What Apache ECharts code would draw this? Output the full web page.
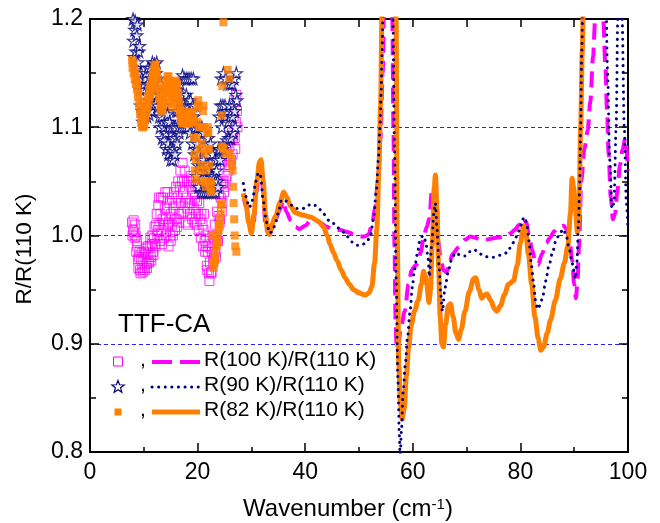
<!DOCTYPE html>
<html>
<head>
<meta charset="utf-8">
<script src="https://cdn.jsdelivr.net/npm/echarts@6/dist/echarts.min.js"></script>
<style>
  html, body { margin: 0; padding: 0; background: #fff; }
  #chart { width: 660px; height: 523px; }
</style>
</head>
<body>
<div id="chart"></div>
<script>
// Axis tick labels
const yTicks = ['0.8', '0.9', '1.0', '1.1', '1.2'];

// Raw far-infrared ratio points below 28 cm-1, [wavenumber (cm-1), R/R(110 K)]
const r100Points = [
  [7.8,1.012],[7.9,1.0],[8.0,1.005],[8.1,1.014],[8.2,1.003],[8.3,0.998],[8.4,1.01],[8.5,1.0],[8.6,0.985],[8.7,0.995],[8.8,0.99],[8.9,0.978],
  [9.0,0.97],[9.1,0.98],[9.2,0.985],[9.3,0.968],[9.4,0.965],[9.5,0.978],[9.6,0.984],[9.7,0.97],[9.8,0.966],[9.9,0.978],
  [10.0,0.985],[10.1,0.97],[10.2,0.968],[10.3,0.98],[10.4,0.988],[10.5,0.974],[10.6,0.97],[10.7,0.983],[10.8,0.99],[10.9,0.976],
  [11.0,0.975],[11.1,0.99],[11.2,0.998],[11.3,0.98],[11.4,0.977],[11.5,0.992],[11.6,1.0],[11.7,0.985],[11.8,0.982],[11.9,0.997],
  [12.0,1.008],[12.1,0.992],[12.2,0.99],[12.3,1.01],[12.4,1.02],[12.5,1.0],[12.6,1.005],[12.7,1.028],[12.8,1.035],[12.9,1.01],
  [13.0,0.995],[13.1,1.02],[13.2,1.035],[13.3,1.005],[13.4,0.992],[13.5,1.015],[13.6,1.035],[13.7,1.01],[13.8,0.998],[13.9,1.025],
  [14.0,1.04],[14.1,1.015],[14.2,1.0],[14.3,1.025],[14.4,1.04],[14.5,1.01],[14.6,0.99],[14.7,1.012],[14.8,1.03],[14.9,1.0],
  [15.0,0.995],[15.1,1.02],[15.2,1.035],[15.3,1.01],[15.4,1.0],[15.5,1.025],[15.6,1.04],[15.7,1.015],[15.8,1.005],[15.9,1.03],
  [16.0,1.045],[16.1,1.015],[16.2,1.008],[16.3,1.035],[16.4,1.05],[16.5,1.02],[16.6,1.012],[16.7,1.045],[16.8,1.06],[16.9,1.03],
  [17.0,1.02],[17.1,1.05],[17.2,1.067],[17.3,1.04],[17.4,1.022],[17.5,1.05],[17.6,1.06],[17.7,1.03],[17.8,1.012],[17.9,1.035],
  [18.0,1.05],[18.1,1.025],[18.2,1.01],[18.3,1.03],[18.4,1.05],[18.5,1.03],[18.6,1.02],[18.7,1.045],[18.8,1.055],[18.9,1.03],
  [19.0,1.015],[19.1,1.04],[19.2,1.05],[19.3,1.025],[19.4,1.012],[19.5,1.035],[19.6,1.045],[19.7,1.02],[19.8,1.01],[19.9,1.032],
  [20.0,1.045],[20.1,1.02],[20.2,1.005],[20.3,1.03],[20.4,1.045],[20.5,1.015],[20.6,0.998],[20.7,1.02],[20.8,1.04],[20.9,1.01],
  [21.0,0.99],[21.1,1.005],[21.2,1.02],[21.3,0.995],[21.4,0.985],[21.5,1.0],[21.6,0.99],[21.7,0.972],[21.8,0.968],[21.9,0.985],
  [22.0,0.99],[22.1,0.965],[22.2,0.958],[22.3,0.975],[22.4,0.988],[22.5,0.966],[22.6,0.965],[22.7,0.985],[22.8,1.0],[22.9,0.975],
  [23.0,0.978],[23.1,0.998],[23.2,1.01],[23.3,0.985],[23.4,0.98],[23.5,1.0],[23.6,1.022],[23.7,0.995],[23.8,0.995],[23.9,1.018],
  [24.0,1.038],[24.1,1.012],[24.2,1.015],[24.3,1.035],[24.4,1.048],[24.5,1.022],[24.6,1.03],[24.7,1.048],[24.8,1.05],[24.9,1.04],
  [25.0,1.045],[25.1,1.065],[25.2,1.07],[25.3,1.05],[25.4,1.055],[25.5,1.075],[25.6,1.085],[25.7,1.06],[25.8,1.065],[25.9,1.082],
  [26.0,1.09],[26.1,1.065],[26.2,1.07],[26.3,1.088],[26.4,1.095],[26.5,1.075],[26.6,1.09],[26.7,1.11],[26.8,1.125],[26.9,1.09],
  [27.0,1.08],[27.1,1.105],[27.2,1.13],[27.3,1.115],[27.4,1.1]
];
const r90Points = [
  [8.0,1.2],[8.1,1.18],[8.2,1.165],[8.3,1.19],[8.4,1.198],[8.5,1.17],[8.6,1.155],[8.7,1.185],[8.8,1.195],[8.9,1.16],
  [9.0,1.14],[9.1,1.17],[9.2,1.175],[9.3,1.135],[9.4,1.12],[9.5,1.15],[9.6,1.145],[9.7,1.115],[9.8,1.105],[9.9,1.135],
  [10.0,1.14],[10.1,1.11],[10.2,1.115],[10.3,1.145],[10.4,1.15],[10.5,1.12],[10.6,1.11],[10.7,1.14],[10.8,1.155],[10.9,1.125],
  [11.0,1.112],[11.1,1.14],[11.2,1.155],[11.3,1.13],[11.4,1.115],[11.5,1.145],[11.6,1.16],[11.7,1.135],[11.8,1.12],[11.9,1.15],
  [12.0,1.158],[12.1,1.13],[12.2,1.122],[12.3,1.15],[12.4,1.16],[12.5,1.14],[12.6,1.12],[12.7,1.145],[12.8,1.14],[12.9,1.11],
  [13.0,1.1],[13.1,1.13],[13.2,1.14],[13.3,1.11],[13.4,1.09],[13.5,1.12],[13.6,1.13],[13.7,1.1],[13.8,1.088],[13.9,1.115],
  [14.0,1.12],[14.1,1.095],[14.2,1.08],[14.3,1.105],[14.4,1.112],[14.5,1.085],[14.6,1.075],[14.7,1.1],[14.8,1.105],[14.9,1.08],
  [15.0,1.07],[15.1,1.095],[15.2,1.1],[15.3,1.078],[15.4,1.07],[15.5,1.09],[15.6,1.1],[15.7,1.08],[15.8,1.075],[15.9,1.1],
  [16.0,1.115],[16.1,1.09],[16.2,1.085],[16.3,1.115],[16.4,1.13],[16.5,1.1],[16.6,1.095],[16.7,1.125],[16.8,1.14],[16.9,1.11],
  [17.0,1.1],[17.1,1.13],[17.2,1.148],[17.3,1.12],[17.4,1.1],[17.5,1.125],[17.6,1.145],[17.7,1.12],[17.8,1.1],[17.9,1.13],
  [18.0,1.145],[18.1,1.12],[18.2,1.1],[18.3,1.125],[18.4,1.145],[18.5,1.115],[18.6,1.095],[18.7,1.125],[18.8,1.145],[18.9,1.11],
  [19.0,1.085],[19.1,1.12],[19.2,1.145],[19.3,1.11],[19.4,1.075],[19.5,1.1],[19.6,1.12],[19.7,1.08],[19.8,1.055],[19.9,1.085],
  [20.0,1.1],[20.1,1.065],[20.2,1.045],[20.3,1.075],[20.4,1.1],[20.5,1.07],[20.6,1.04],[20.7,1.07],[20.8,1.1],[20.9,1.065],
  [21.0,1.04],[21.1,1.07],[21.2,1.095],[21.3,1.06],[21.4,1.04],[21.5,1.065],[21.6,1.09],[21.7,1.06],[21.8,1.04],[21.9,1.065],
  [22.0,1.09],[22.1,1.06],[22.2,1.04],[22.3,1.06],[22.4,1.085],[22.5,1.055],[22.6,1.04],[22.7,1.055],[22.8,1.075],[22.9,1.05],
  [23.0,1.04],[23.1,1.055],[23.2,1.07],[23.3,1.05],[23.4,1.04],[23.5,1.06],[23.6,1.07],[23.7,1.05],[23.8,1.045],[23.9,1.08],
  [24.0,1.11],[24.1,1.08],[24.2,1.07],[24.3,1.12],[24.4,1.145],[24.5,1.1],[24.6,1.08],[24.7,1.12],[24.8,1.15],[24.9,1.11],
  [25.0,1.085],[25.1,1.12],[25.2,1.145],[25.3,1.11],[25.4,1.088],[25.5,1.115],[25.6,1.14],[25.7,1.105],[25.8,1.09],[25.9,1.12],
  [26.0,1.14],[26.1,1.11],[26.2,1.09],[26.3,1.115],[26.4,1.14],[26.5,1.11],[26.6,1.095],[26.7,1.12],[26.8,1.145],[26.9,1.115],
  [27.0,1.1],[27.1,1.13],[27.2,1.15],[27.3,1.125]
];
const r82Points = [
  [7.8,1.162],[7.9,1.155],[8.0,1.16],[8.1,1.15],[8.2,1.155],[8.3,1.145],[8.4,1.15],[8.5,1.14],[8.6,1.145],[8.7,1.135],[8.8,1.14],[8.9,1.128],
  [9.0,1.132],[9.1,1.12],[9.2,1.124],[9.3,1.112],[9.4,1.116],[9.5,1.104],[9.6,1.108],[9.7,1.1],[9.8,1.106],[9.9,1.1],
  [10.0,1.106],[10.1,1.102],[10.2,1.11],[10.3,1.108],[10.4,1.118],[10.5,1.114],[10.6,1.124],[10.7,1.118],[10.8,1.128],[10.9,1.124],
  [11.0,1.134],[11.1,1.128],[11.2,1.138],[11.3,1.132],[11.4,1.143],[11.5,1.137],[11.6,1.148],[11.7,1.142],[11.8,1.153],[11.9,1.148],
  [12.0,1.157],[12.1,1.152],[12.2,1.158],[12.3,1.15],[12.4,1.152],[12.5,1.142],[12.6,1.145],[12.7,1.134],[12.8,1.136],[12.9,1.126],
  [13.0,1.128],[13.1,1.118],[13.2,1.122],[13.3,1.114],[13.4,1.12],[13.5,1.116],[13.6,1.125],[13.7,1.122],[13.8,1.132],[13.9,1.128],
  [14.0,1.138],[14.1,1.134],[14.2,1.143],[14.3,1.138],[14.4,1.147],[14.5,1.14],[14.6,1.147],[14.7,1.138],[14.8,1.143],[14.9,1.132],
  [15.0,1.136],[15.1,1.122],[15.2,1.128],[15.3,1.118],[15.4,1.125],[15.5,1.13],[15.6,1.138],[15.7,1.134],[15.8,1.142],[15.9,1.136],
  [16.0,1.143],[16.1,1.135],[16.2,1.14],[16.3,1.128],[16.4,1.132],[16.5,1.12],[16.6,1.124],[16.7,1.112],[16.8,1.116],[16.9,1.106],
  [17.0,1.112],[17.1,1.104],[17.2,1.11],[17.3,1.104],[17.4,1.112],[17.5,1.106],[17.6,1.114],[17.7,1.106],[17.8,1.112],[17.9,1.104],
  [18.0,1.11],[18.1,1.103],[18.2,1.11],[18.3,1.104],[18.4,1.112],[18.5,1.106],[18.6,1.114],[18.7,1.107],[18.8,1.113],[18.9,1.106],
  [19.0,1.112],[19.1,1.104],[19.2,1.108],[19.3,1.09],[19.4,1.075],[19.5,1.06],[19.6,1.052],[19.7,1.07],[19.8,1.09],[19.9,1.105],
  [20.0,1.118],[20.1,1.125],[20.2,1.12],[20.3,1.1],[20.4,1.08],[20.5,1.06],[20.6,1.05],[20.7,1.065],[20.8,1.085],[20.9,1.1],
  [21.0,1.115],[21.1,1.12],[21.2,1.1],[21.3,1.075],[21.4,1.05],[21.5,1.045],[21.6,1.06],[21.7,1.08],[21.8,1.095],[21.9,1.1],
  [22.0,1.095],[22.1,1.08],[22.2,1.065],[22.3,1.05],[22.4,1.042],[22.5,1.048],[22.6,1.04],[22.8,1.0],[22.9,0.975],
  [23.0,0.97],[23.1,0.975],[23.2,0.98],[23.3,0.978],[23.4,0.985],[23.5,0.99],[23.6,0.995],[23.7,0.993],[23.8,1.0],[23.9,1.005],
  [24.0,1.01],[24.1,1.008],[24.2,1.015],[24.3,1.02],[24.4,1.028],[24.5,1.03],
  [24.5,1.082],[24.5,1.111],[24.6,1.138],[24.8,1.197],[24.8,1.081],[25.2,1.076],[25.6,1.153],[25.9,1.145],[26.0,1.076],
  [26.3,1.07],[26.4,1.065],[26.5,1.06],[26.6,1.045],[26.7,1.03],[26.8,1.015],[26.9,1.0],[27.0,0.99],[27.2,0.985]
];

// Smoothed ratio curves above 28 cm-1, [wavenumber (cm-1), R/R(110 K)]
const r100Curve = [
  [28.5,1.038],[29.0,1.026],[29.5,1.012],[30.0,1.004],[30.4,1.01],[30.9,1.04],[31.5,1.062],[31.8,1.064],[32.2,1.04],[32.6,1.01],
  [33.0,1.003],[33.4,1.001],[34.0,1.008],[34.6,1.016],[35.3,1.024],[35.9,1.032],[36.5,1.022],[37.3,1.014],[38.2,1.008],[38.9,1.006],
  [40.0,1.009],[41.0,1.014],[42.0,1.014],[43.0,1.011],[44.0,1.008],[45.0,1.006],[46.5,1.005],[48.0,1.003],[49.0,1.001],[50.0,0.999],
  [51.0,0.999],[51.8,1.001],[52.4,1.01],[53.0,1.025],[53.5,1.05],[54.0,1.09],[54.4,1.15],[54.7,1.22],[55.0,1.35],[56.0,1.35],
  [56.2,1.2],[56.4,1.1],[56.6,0.99],[56.8,0.92],[57.0,0.895],[57.3,0.9],[57.8,0.915],[58.5,0.93],[59.2,0.955],[59.8,0.968],
  [60.4,0.972],[60.9,0.974],[61.5,0.985],[62.0,0.998],[62.6,1.008],[63.1,1.016],[63.5,1.04],[63.8,1.043],[64.2,1.018],[64.7,0.995],
  [65.1,0.982],[65.7,0.968],[66.3,0.966],[66.8,0.975],[67.4,0.983],[68.5,0.989],[69.7,0.996],[70.7,0.999],[71.6,0.998],[72.5,0.996],
  [73.5,0.996],[74.4,0.997],[75.5,0.998],[77.2,0.999],[78.2,1.002],[78.9,1.005],[79.8,1.01],[80.6,1.016],[81.1,1.012],[81.6,1.0],
  [82.2,0.986],[82.8,0.975],[83.3,0.973],[84.0,0.983],[84.8,0.993],[85.5,0.998],[86.3,1.004],[87.1,1.008],[88.0,1.009],[88.6,1.006],
  [89.2,0.993],[89.6,0.978],[90.0,0.955],[90.3,0.942],[90.6,0.955],[90.9,0.99],[91.3,1.05],[91.9,1.08],[92.5,1.097],[93.0,1.124],
  [93.5,1.165],[93.9,1.2],[94.5,1.3],[95.0,1.28],[95.4,1.2],[95.8,1.156],[96.1,1.116],[96.4,1.075],[96.8,1.035],[97.2,1.015],
  [97.6,1.02],[98.0,1.04],[98.5,1.065],[99.0,1.08],[99.5,1.09],[100,1.06]
];
const r90Curve = [
  [28.5,1.048],[29.1,1.035],[29.5,1.026],[30.0,1.028],[30.4,1.038],[30.8,1.05],[31.3,1.058],[31.7,1.055],[32.2,1.032],[32.6,1.018],
  [33.0,1.008],[33.4,1.002],[34.0,1.005],[34.5,1.012],[35.0,1.021],[35.6,1.033],[36.3,1.032],[37.5,1.028],[38.5,1.025],[39.6,1.025],
  [40.5,1.028],[41.5,1.029],[42.5,1.025],[43.4,1.02],[44.4,1.014],[45.3,1.011],[46.1,1.007],[46.9,1.004],[47.8,0.999],[48.7,0.994],
  [49.6,0.991],[50.5,0.991],[51.4,0.994],[52.1,0.999],[52.7,1.015],[53.2,1.04],[53.6,1.07],[53.9,1.1],[54.1,1.13],[54.3,1.17],
  [54.5,1.22],[54.8,1.35],[56.0,1.35],[56.3,1.2],[56.6,1.08],[56.9,0.96],[57.2,0.87],[57.5,0.815],[57.65,0.795],[57.9,0.82],
  [58.2,0.855],[58.6,0.88],[59.0,0.905],[59.5,0.93],[59.9,0.952],[60.3,0.968],[60.8,0.982],[61.3,0.995],[61.9,1.0],[62.4,0.995],
  [62.8,0.98],[63.1,0.962],[63.5,0.99],[63.9,1.02],[64.2,1.03],[64.5,1.005],[64.9,0.97],[65.2,0.945],[65.5,0.93],[66.0,0.952],
  [66.6,0.967],[67.2,0.978],[67.9,0.984],[68.8,0.982],[69.7,0.981],[70.6,0.985],[71.4,0.987],[72.3,0.984],[73.1,0.981],[74.2,0.98],
  [75.3,0.98],[76.4,0.982],[77.5,0.984],[78.2,0.989],[78.8,0.994],[79.4,1.0],[79.9,1.006],[80.4,1.015],[80.8,1.017],[81.2,1.01],
  [81.6,0.995],[82.0,0.975],[82.4,0.958],[82.8,0.94],[83.2,0.932],[83.6,0.935],[84.1,0.942],[84.7,0.958],[85.3,0.972],[86.0,0.985],
  [86.6,0.995],[87.3,1.002],[88.0,1.006],[88.5,1.0],[89.0,0.99],[89.5,0.978],[89.9,0.968],[90.2,0.96],[90.5,0.975],[90.8,1.01],
  [91.0,1.04],[91.2,1.1],[91.4,1.17],[91.7,1.25],[92.2,1.4],[95.0,1.4],[95.8,1.25],[96.2,1.15],[96.6,1.07],[97.0,1.025],
  [97.4,1.03],[97.8,1.1],[98.1,1.2],[98.5,1.3],[98.9,1.2],[99.3,1.1],[99.7,1.03],[100,1.005]
];
const r82Curve = [
  [28.5,1.039],[29.0,1.03],[29.5,1.012],[30.0,1.002],[30.5,1.02],[31.0,1.05],[31.5,1.068],[31.8,1.07],[32.2,1.05],[32.6,1.02],
  [33.0,1.004],[33.3,1.001],[33.8,1.01],[34.5,1.018],[35.3,1.03],[36.0,1.04],[36.5,1.036],[37.3,1.027],[38.2,1.021],[39.5,1.019],
  [41.0,1.017],[42.5,1.013],[43.4,1.008],[44.1,1.0],[44.6,0.992],[45.3,0.984],[45.9,0.977],[46.7,0.968],[47.4,0.961],[48.2,0.955],
  [49.0,0.95],[50.0,0.947],[51.1,0.945],[51.9,0.947],[52.4,0.953],[52.9,0.975],[53.3,1.005],[53.7,1.06],[54.0,1.12],[54.3,1.21],
  [54.6,1.35],[56.6,1.35],[56.9,1.2],[57.1,1.0],[57.4,0.88],[57.7,0.845],[58.0,0.83],[58.4,0.84],[58.8,0.87],[59.2,0.895],
  [59.7,0.917],[60.3,0.93],[61.0,0.94],[61.6,0.955],[62.0,0.967],[62.3,0.963],[62.6,0.955],[63.0,0.938],[63.3,0.95],[63.6,0.99],
  [64.0,1.045],[64.2,1.056],[64.5,1.025],[64.8,0.97],[65.1,0.924],[65.4,0.9],[65.7,0.897],[66.1,0.918],[66.6,0.935],[67.0,0.937],
  [67.5,0.925],[68.0,0.91],[68.5,0.904],[69.0,0.913],[69.7,0.93],[70.5,0.948],[71.3,0.96],[71.7,0.961],[72.3,0.95],[72.8,0.942],
  [73.3,0.945],[73.8,0.946],[74.5,0.94],[75.2,0.932],[75.6,0.93],[76.3,0.935],[77.0,0.945],[77.8,0.955],[78.7,0.958],[79.4,0.972],
  [80.0,0.993],[80.6,1.009],[81.0,1.003],[81.5,0.982],[82.1,0.955],[82.7,0.925],[83.3,0.905],[83.8,0.894],[84.3,0.897],[85.0,0.91],
  [85.6,0.922],[86.5,0.94],[87.4,0.96],[88.2,0.975],[88.8,0.99],[89.3,1.02],[89.6,1.053],[89.9,1.045],[90.2,1.028],[90.6,1.003],
  [90.9,1.02],[91.2,1.1],[91.5,1.17],[91.8,1.25],[92.2,1.4]
];

const legendLabels = ['R(100 K)/R(110 K)', 'R(90 K)/R(110 K)', 'R(82 K)/R(110 K)'];
const sampleName = 'TTF-CA';
const yTitle = 'R/R(110 K)';

const MAGENTA = '#ff00ff';
const NAVY = '#000080';
const ORANGE = '#ff8000';
const FONT = '"Liberation Sans", Arial, sans-serif';
const STAR = 'path://M50,0 L61,35 L98,35 L68,57 L79,91 L50,70 L21,91 L32,57 L2,35 L39,35 Z';

const chart = echarts.init(document.getElementById('chart'), null, { renderer: 'canvas' });

const axisLineStyle = { color: '#000', width: 2 };
const tickStyle = { color: '#000', width: 1.5 };

// One legend row: marker, comma, line sample, label
function legendRow(y, symbol, lineStyle, label) {
  return [
    symbol,
    { type: 'text', x: 140, y: y - 12, style: { text: ',', font: '21px ' + FONT, fill: '#000' } },
    { type: 'line', shape: { x1: 152, y1: y, x2: 200, y2: y }, style: lineStyle },
    { type: 'text', x: 204, y: y - 12, style: { text: label, font: '21px ' + FONT, fill: '#000' } }
  ];
}

// Outline of a five-pointed star marker centred at (cx, cy)
function starPoints(cx, cy, r) {
  const pts = [];
  for (let i = 0; i < 10; i++) {
    const a = -Math.PI / 2 + i * Math.PI / 5;
    const rr = i % 2 === 0 ? r : r * 0.42;
    pts.push([cx + rr * Math.cos(a), cy + rr * Math.sin(a)]);
  }
  return pts;
}

const legendGraphics = [].concat(
  [
    { type: 'text', x: 118, y: 312, style: { text: sampleName, font: '26px ' + FONT, fill: '#000' } },
    {
      type: 'text', x: 25, y: 249, rotation: Math.PI / 2,
      style: { text: yTitle, font: '22.5px ' + FONT, fill: '#000', align: 'center', verticalAlign: 'middle' }
    }
  ],
  legendRow(362,
    { type: 'rect', shape: { x: 113.5, y: 357, width: 9, height: 9 }, style: { fill: 'none', stroke: MAGENTA, lineWidth: 1 } },
    { stroke: MAGENTA, lineWidth: 4, lineDash: [20, 8] }, legendLabels[0]),
  legendRow(387,
    { type: 'polygon', shape: { points: starPoints(118, 387, 6.5) }, style: { fill: '#fff', stroke: NAVY, lineWidth: 1.2 } },
    { stroke: NAVY, lineWidth: 3, lineDash: [0.1, 6.5], lineCap: 'round' }, legendLabels[1]),
  legendRow(412,
    { type: 'rect', shape: { x: 114.5, y: 408.5, width: 7, height: 7 }, style: { fill: ORANGE } },
    { stroke: ORANGE, lineWidth: 5 }, legendLabels[2])
);

const option = {
  backgroundColor: '#fff',
  animation: false,
  grid: { left: 90, right: 32, top: 19, bottom: 71, containLabel: false, outerBoundsMode: 'none' },
  xAxis: [{
    type: 'value', min: 0, max: 100, interval: 20, position: 'bottom',
    name: 'Wavenumber (cm{sup|-1})', nameLocation: 'middle', nameGap: 45,
    nameTextStyle: {
      fontFamily: FONT, fontSize: 24, color: '#000', padding: [0, 22, 0, 0],
      rich: { sup: { fontFamily: FONT, fontSize: 15, verticalAlign: 'top', color: '#000' } }
    },
    axisLine: { onZero: false, lineStyle: axisLineStyle },
    axisTick: { inside: true, length: 9, lineStyle: tickStyle },
    minorTick: { show: true, splitNumber: 2, length: 5, lineStyle: tickStyle },
    axisLabel: { fontFamily: FONT, fontSize: 23, color: '#000', margin: 9 },
    splitLine: { show: false }
  }, {
    type: 'value', min: 0, max: 100, interval: 20, position: 'top',
    axisLine: { onZero: false, lineStyle: axisLineStyle },
    axisTick: { inside: true, length: 8, lineStyle: tickStyle },
    minorTick: { show: true, splitNumber: 2, length: 8, lineStyle: tickStyle },
    axisLabel: { show: false }, splitLine: { show: false }
  }],
  yAxis: [{
    type: 'value', min: 0.8, max: 1.2, interval: 0.1, position: 'left',
    axisLine: { onZero: false, lineStyle: axisLineStyle },
    axisTick: { inside: true, length: 9, lineStyle: tickStyle },
    minorTick: { show: true, splitNumber: 2, length: 6, lineStyle: tickStyle },
    axisLabel: {
      fontFamily: FONT, fontSize: 23, color: '#000', margin: 7,
      formatter: v => yTicks[Math.round((v - 0.8) * 10)]
    },
    splitLine: { show: true, lineStyle: { color: '#2222ff', width: 1, type: [4, 3] } }
  }, {
    type: 'value', min: 0.8, max: 1.2, interval: 0.1, position: 'right',
    axisLine: { onZero: false, lineStyle: axisLineStyle },
    axisTick: { inside: true, length: 9, lineStyle: tickStyle },
    minorTick: { show: true, splitNumber: 2, length: 6, lineStyle: tickStyle },
    axisLabel: { show: false }, splitLine: { show: false }
  }],
  graphic: legendGraphics,
  series: [
    {
      type: 'scatter', name: legendLabels[0], data: r100Points, symbol: 'rect', symbolSize: 9,
      itemStyle: { color: 'rgba(255,255,255,0)', borderColor: MAGENTA, borderWidth: 1 }, z: 2
    },
    {
      type: 'scatter', name: legendLabels[1], data: r90Points, symbol: STAR, symbolSize: 12,
      itemStyle: { color: '#fff', borderColor: NAVY, borderWidth: 1.2 }, z: 3
    },
    {
      type: 'scatter', name: legendLabels[2], data: r82Points, symbol: 'rect', symbolSize: 8,
      itemStyle: { color: ORANGE }, z: 4
    },
    {
      type: 'line', name: legendLabels[0], data: r100Curve, showSymbol: false, smooth: 0.3, smoothMonotone: 'x',
      lineStyle: { color: MAGENTA, width: 4, type: [16, 8] }, z: 5
    },
    {
      type: 'line', name: legendLabels[2], data: r82Curve, showSymbol: false, smooth: 0.3, smoothMonotone: 'x',
      lineStyle: { color: ORANGE, width: 5 }, z: 6
    },
    {
      type: 'line', name: legendLabels[1], data: r90Curve, showSymbol: false, smooth: 0.3, smoothMonotone: 'x',
      lineStyle: { color: NAVY, width: 3, type: [0.1, 6.5], cap: 'round' }, z: 7
    }
  ]
};

chart.setOption(option);
</script>
</body>
</html>
